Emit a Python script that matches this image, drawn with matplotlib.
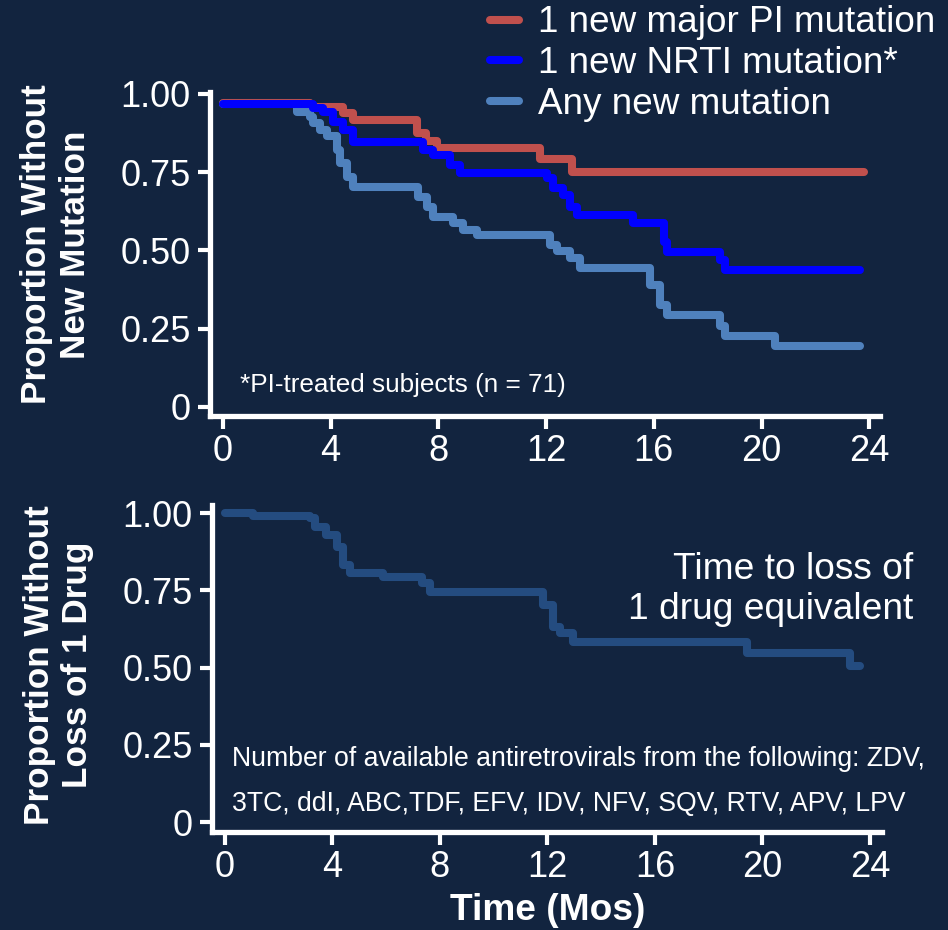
import matplotlib.pyplot as plt

plt.rcParams['font.family'] = ['Liberation Sans', 'DejaVu Sans']

bg = '#12243f'

# top panel: time to new mutation (months) and proportion without
pi_t = [0, 3.23, 4.47, 4.84, 7.19, 7.55, 7.94, 11.78, 12.95, 23.8]
pi_s = [0.972, 0.959, 0.939, 0.915, 0.875, 0.848, 0.827, 0.792, 0.749, 0.749]

nrti_t = [0, 3.36, 3.73, 4.10, 4.47, 4.84, 7.44, 7.81, 8.43, 8.80, 12.02, 12.27,
          12.64, 12.89, 13.14, 15.24, 16.36, 16.48, 18.46, 18.65, 23.66]
nrti_s = [0.968, 0.954, 0.943, 0.911, 0.885, 0.847, 0.821, 0.805, 0.773, 0.747, 0.731,
          0.699, 0.677, 0.640, 0.613, 0.587, 0.528, 0.496, 0.470, 0.438, 0.438]

any_t = [0, 2.74, 3.23, 3.36, 3.60, 3.85, 4.22, 4.35, 4.60, 4.84, 7.26, 7.57, 7.81,
         8.56, 8.93, 9.42, 12.15, 12.40, 12.89, 13.26, 15.86, 16.23, 16.48, 18.46,
         18.65, 20.50, 23.66]
any_s = [0.968, 0.943, 0.927, 0.906, 0.885, 0.864, 0.821, 0.779, 0.736, 0.704, 0.672,
         0.640, 0.608, 0.587, 0.565, 0.550, 0.518, 0.499, 0.475, 0.443, 0.390, 0.326,
         0.294, 0.257, 0.225, 0.195, 0.195]

# bottom panel: time to loss of 1 drug equivalent
drug_t = [0, 1.05, 3.16, 3.35, 3.78, 4.16, 4.40, 4.65, 5.89, 7.32, 7.63, 11.84,
          12.22, 12.47, 12.96, 19.41, 23.26, 23.63]
drug_s = [1.0, 0.99, 0.983, 0.956, 0.929, 0.891, 0.832, 0.805, 0.792, 0.772, 0.745,
          0.702, 0.632, 0.611, 0.584, 0.546, 0.505, 0.505]

labels = ['1 new major PI mutation', '1 new NRTI mutation*', 'Any new mutation']
xticks = [0, 4, 8, 12, 16, 20, 24]
yticks = [0, 0.25, 0.5, 0.75, 1.0]
yticklabels = ['0', '0.25', '0.50', '0.75', '1.00']

fig = plt.figure(figsize=(9.48, 9.3), dpi=100, facecolor=bg)
ax1 = fig.add_axes([0.2215, 0.5527, 0.7068, 0.3484])
ax2 = fig.add_axes([0.2236, 0.1054, 0.7068, 0.3516])

lw = 5.8
kw = dict(where='post', lw=lw, solid_capstyle='round', solid_joinstyle='round')
l1, = ax1.step(pi_t, pi_s, color='#c0504d', zorder=2, **kw)
l3, = ax1.step(any_t, any_s, color='#4f81bd', zorder=3, **kw)
l2, = ax1.step(nrti_t, nrti_s, color='#0000ff', zorder=4, **kw)
ax2.step(drug_t, drug_s, color='#244c80', **kw)

ax1.set_xlim(-0.48, 24.4)
ax1.set_ylim(-0.029, 1.006)
ax2.set_xlim(-0.48, 24.45)
ax2.set_ylim(-0.032, 1.026)

for ax in (ax1, ax2):
    ax.set_facecolor(bg)
    for s in ('top', 'right'):
        ax.spines[s].set_visible(False)
    for s in ('left', 'bottom'):
        ax.spines[s].set_color('white')
        ax.spines[s].set_linewidth(3.8)
    ax.set_xticks(xticks)
    ax.set_yticks(yticks)
    ax.set_yticklabels(yticklabels)
    ax.tick_params(colors='white', labelsize=26, length=9, width=3, pad=4)
    ax.tick_params(axis='y', pad=5)

fig.legend(handles=[l1, l2, l3], labels=labels, loc='upper left',
           bbox_to_anchor=(0.501, 1.01), frameon=False, fontsize=26.6,
           labelcolor='white', handlelength=0.8, handletextpad=0.5,
           labelspacing=0.15, borderaxespad=0)

fig.text(0.059, 0.737, 'Proportion Without\nNew Mutation', rotation=90,
         ha='center', va='center', color='white', fontsize=25.3, fontweight='bold',
         multialignment='center')
fig.text(0.062, 0.285, 'Proportion Without\nLoss of 1 Drug', rotation=90,
         ha='center', va='center', color='white', fontsize=25.3, fontweight='bold',
         multialignment='center')

fig.text(0.253, 0.586, '*PI-treated subjects (n = 71)', color='white', fontsize=18.8,
         ha='left', va='center')
fig.text(0.963, 0.366, 'Time to loss of\n1 drug equivalent', color='white',
         fontsize=26.7, ha='right', va='center', multialignment='right')
fig.text(0.245, 0.184, 'Number of available antiretrovirals from the following: ZDV,',
         color='white', fontsize=19.2, ha='left', va='center')
fig.text(0.245, 0.136, '3TC, ddI, ABC,TDF, EFV, IDV, NFV, SQV, RTV, APV, LPV',
         color='white', fontsize=19.2, ha='left', va='center')
fig.text(0.578, 0.021, 'Time (Mos)', color='white', fontsize=26.7, fontweight='bold',
         ha='center', va='center')

plt.savefig('out.png', dpi=100, facecolor=bg)
